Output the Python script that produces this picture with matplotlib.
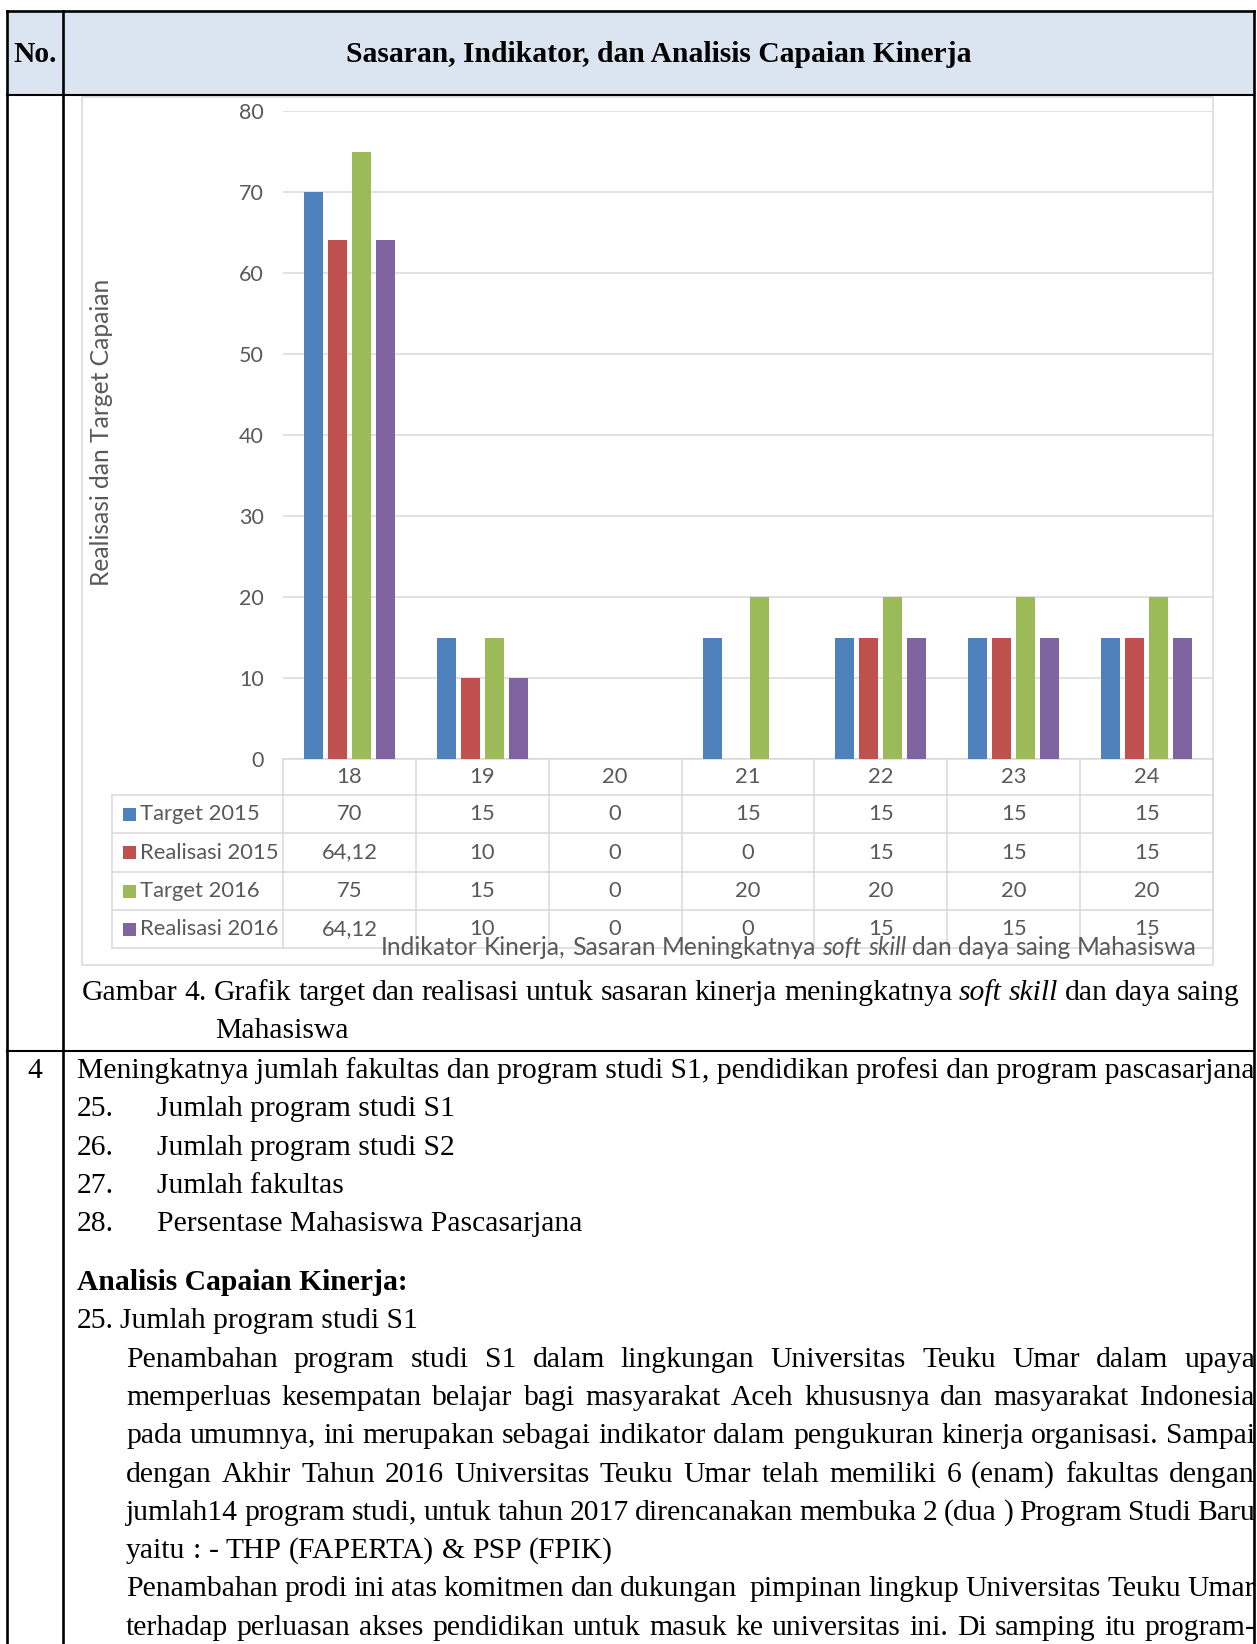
import numpy as np
import matplotlib
matplotlib.use("Agg")
import matplotlib.pyplot as plt
from matplotlib.patches import Rectangle
from matplotlib.transforms import blended_transform_factory

# --- data grafik ---
indikator = ["18", "19", "20", "21", "22", "23", "24"]
seri = ["Target 2015", "Realisasi 2015", "Target 2016", "Realisasi 2016"]
target_2015 = [70, 15, 0, 15, 15, 15, 15]
realisasi_2015 = [64.12, 10, 0, 0, 15, 15, 15]
target_2016 = [75, 15, 0, 20, 20, 20, 20]
realisasi_2016 = [64.12, 10, 0, 0, 15, 15, 15]
warna = ["#4F81BD", "#C0504D", "#9BBB59", "#8064A2"]
y_ticks = [0, 10, 20, 30, 40, 50, 60, 70, 80]

judul_sumbu_y = "Realisasi dan Target Capaian"
judul_sumbu_x = "Indikator Kinerja, Sasaran Meningkatnya _soft_ _skill_ dan daya saing Mahasiswa"

# --- teks dokumen ---
kepala_no = "No."
kepala_judul = "Sasaran, Indikator, dan Analisis Capaian Kinerja"
keterangan_1 = "Gambar 4. Grafik target dan realisasi untuk sasaran kinerja meningkatnya _soft_ _skill_ dan daya saing"
keterangan_2 = "Mahasiswa"
nomor_baris = "4"
sasaran = "Meningkatnya jumlah fakultas dan program studi S1, pendidikan profesi dan program pascasarjana"
daftar_no = ["25.", "26.", "27.", "28."]
daftar_ind = ["Jumlah program studi S1", "Jumlah program studi S2", "Jumlah fakultas",
              "Persentase Mahasiswa Pascasarjana"]
sub_judul = "Analisis Capaian Kinerja:"
butir_no = "25."
butir_judul = "Jumlah program studi S1"
paragraf = [
    ("Penambahan program studi S1 dalam lingkungan Universitas Teuku Umar dalam upaya", True),
    ("memperluas kesempatan belajar bagi masyarakat Aceh khususnya dan masyarakat Indonesia", True),
    ("pada umumnya, ini merupakan sebagai indikator dalam pengukuran kinerja organisasi. Sampai", True),
    ("dengan Akhir Tahun 2016 Universitas Teuku Umar telah memiliki 6 (enam) fakultas dengan", True),
    ("jumlah14 program studi, untuk tahun 2017 direncanakan membuka 2 (dua ) Program Studi Baru", True),
    ("yaitu : - THP (FAPERTA) & PSP (FPIK)", False),
    ("Penambahan prodi ini atas komitmen dan dukungan  pimpinan lingkup Universitas Teuku Umar", True),
    ("terhadap perluasan akses pendidikan untuk masuk ke universitas ini. Di samping itu program-", True),
]

W, H = 1257, 1644
SERIF = "Liberation Serif"
SANS = "Lato"
FS_DOC = 21.3
FS_TICK = 15.5
FS_TABEL = 15.8
FS_JUDUL = 17.7
ABU = "#595959"
GARIS = "#D9D9D9"

fig = plt.figure(figsize=(W / 100, H / 100), dpi=100)
page = fig.add_axes([0, 0, 1, 1])
page.set_xlim(0, W)
page.set_ylim(H, 0)
page.axis("off")
renderer = fig.canvas.get_renderer()


def lebar(teks, **kw):
    t = page.text(0, 0, teks, **kw)
    w = t.get_window_extent(renderer).width
    t.remove()
    return w


def tulis(x0, y, teks, x1=None, tengah=False, **kw):
    """Tulis satu baris kata demi kata; _kata_ jadi miring, x1 = rata kanan-kiri."""
    bagian = []
    for tok in teks.split(" "):
        miring = len(tok) > 2 and tok.startswith("_") and tok.endswith("_")
        s = tok[1:-1] if miring else tok
        gaya = "italic" if miring else "normal"
        w = lebar(s, style=gaya, **kw) if s else 0.0
        bagian.append((s, gaya, w))
    spasi = lebar("x x", **kw) - lebar("xx", **kw)
    total = sum(b[2] for b in bagian) + spasi * (len(bagian) - 1)
    jarak = spasi
    if x1 is not None and len(bagian) > 1:
        jarak = spasi + (x1 - x0 - total) / (len(bagian) - 1)
    if tengah:
        x0 = x0 - total / 2
    x = x0
    for s, gaya, w in bagian:
        if s:
            page.text(x, y, s, ha="left", va="baseline", style=gaya, **kw)
        x += w + jarak


doc = dict(family=SERIF, fontsize=FS_DOC, color="black")

# --- kerangka tabel dokumen ---
L, R, T = 7, 1254, 11
X_DIV, Y_HEAD, Y_ROW = 63, 95, 1051
page.add_patch(Rectangle((L, T), R - L, Y_HEAD - T, facecolor="#DBE5F1", edgecolor="none", zorder=0))
page.text((L + X_DIV) / 2, 62, kepala_no, ha="center", va="baseline", fontweight="bold", **doc)
page.text((X_DIV + R) / 2, 62, kepala_judul, ha="center", va="baseline", fontweight="bold", **doc)

# --- grafik batang ---
PX0, PX1, PY0, PY1 = 283, 1213, 111, 759
page.add_patch(Rectangle((82, 97), PX1 - 82, 965 - 97, facecolor="white",
                         edgecolor=GARIS, lw=1.1, zorder=1))

ax = fig.add_axes([PX0 / W, 1 - PY1 / H, (PX1 - PX0) / W, (PY1 - PY0) / H])
ax.set_facecolor("none")
data = [target_2015, realisasi_2015, target_2016, realisasi_2016]
x = np.arange(len(indikator))
langkah, lebar_batang = 0.18, 0.143
for k, (nilai, c) in enumerate(zip(data, warna)):
    ax.bar(x + (k - 1.5) * langkah, nilai, lebar_batang, color=c, zorder=3)
ax.set_xlim(-0.5, len(indikator) - 0.5)
ax.set_ylim(0, 80)
ax.set_yticks(y_ticks)
ax.set_xticks([])
ax.grid(axis="y", color=GARIS, lw=1.1, zorder=0)
ax.tick_params(axis="y", length=0, pad=14.0, labelsize=FS_TICK, labelcolor=ABU)
for lbl in ax.get_yticklabels():
    lbl.set_family(SANS)
for sp in ax.spines.values():
    sp.set_visible(False)

page.text(102, 432, judul_sumbu_y, rotation=90, ha="center", va="center",
          family=SANS, fontsize=FS_JUDUL, color=ABU)

# --- tabel data di bawah grafik ---
tr = blended_transform_factory(ax.transData, page.transData)
baris_y = [759, 795, 833, 872, 910, 948]
LEG_X = 112
page.plot([PX0, PX1], [baris_y[0]] * 2, color=GARIS, lw=1.1, zorder=2)
for yy in baris_y[1:]:
    page.plot([LEG_X, PX1], [yy, yy], color=GARIS, lw=1.1, zorder=2)
page.plot([LEG_X, LEG_X], [baris_y[1], baris_y[-1]], color=GARIS, lw=1.1, zorder=2)
for i in range(len(indikator) + 1):
    page.plot([i - 0.5, i - 0.5], [baris_y[0], baris_y[-1]], color=GARIS, lw=1.1,
              transform=tr, zorder=2)

sel = dict(family=SANS, fontsize=FS_TABEL, color=ABU, va="center", zorder=4)
for i, lab in enumerate(indikator):
    page.text(i, (baris_y[0] + baris_y[1]) / 2, lab, ha="center", transform=tr, **sel)
for r, (nama, nilai, c) in enumerate(zip(seri, data, warna)):
    yc = (baris_y[r + 1] + baris_y[r + 2]) / 2
    page.add_patch(Rectangle((123, yc - 6.5), 13, 13, facecolor=c, edgecolor="none", zorder=4))
    page.text(140, yc, nama, ha="left", **sel)
    for i, v in enumerate(nilai):
        page.text(i, yc, f"{v:g}".replace(".", ","), ha="center", transform=tr, **sel)

tulis(789, 955, judul_sumbu_x, tengah=True, family=SANS, fontsize=FS_JUDUL, color=ABU, zorder=5)

# --- keterangan gambar dan isi baris 4 ---
tulis(82, 1000, keterangan_1, x1=1240, **doc)
page.text(215, 1038, keterangan_2, ha="left", va="baseline", **doc)

page.text((L + X_DIV) / 2, 1078, nomor_baris, ha="center", va="baseline", **doc)
page.text(77, 1078, sasaran, ha="left", va="baseline", **doc)
SPASI = 38.3
for j, (no, ind) in enumerate(zip(daftar_no, daftar_ind)):
    yb = 1078 + SPASI * (j + 1)
    page.text(77, yb, no, ha="left", va="baseline", **doc)
    page.text(157, yb, ind, ha="left", va="baseline", **doc)

page.text(77, 1290, sub_judul, ha="left", va="baseline", fontweight="bold", **doc)
page.text(77, 1290 + SPASI, butir_no, ha="left", va="baseline", **doc)
page.text(120, 1290 + SPASI, butir_judul, ha="left", va="baseline", **doc)
for j, (baris, rata) in enumerate(paragraf):
    yb = 1290 + SPASI * (j + 2)
    tulis(126, yb, baris, x1=R + 1 if rata else None, **doc)

# garis tabel dokumen di atas teks
page.add_patch(Rectangle((R, 0), W - R, H, facecolor="white", edgecolor="none", zorder=8))
lw_doc = 1.9
page.plot([L, R], [T, T], color="black", lw=lw_doc, zorder=9)
page.plot([L, R], [Y_HEAD, Y_HEAD], color="black", lw=1.5, zorder=9)
page.plot([L, R], [Y_ROW, Y_ROW], color="black", lw=1.5, zorder=9)
for xx in (L, X_DIV, R):
    page.plot([xx, xx], [T, H], color="black", lw=lw_doc, zorder=9)

fig.savefig("out.png", dpi=100)
